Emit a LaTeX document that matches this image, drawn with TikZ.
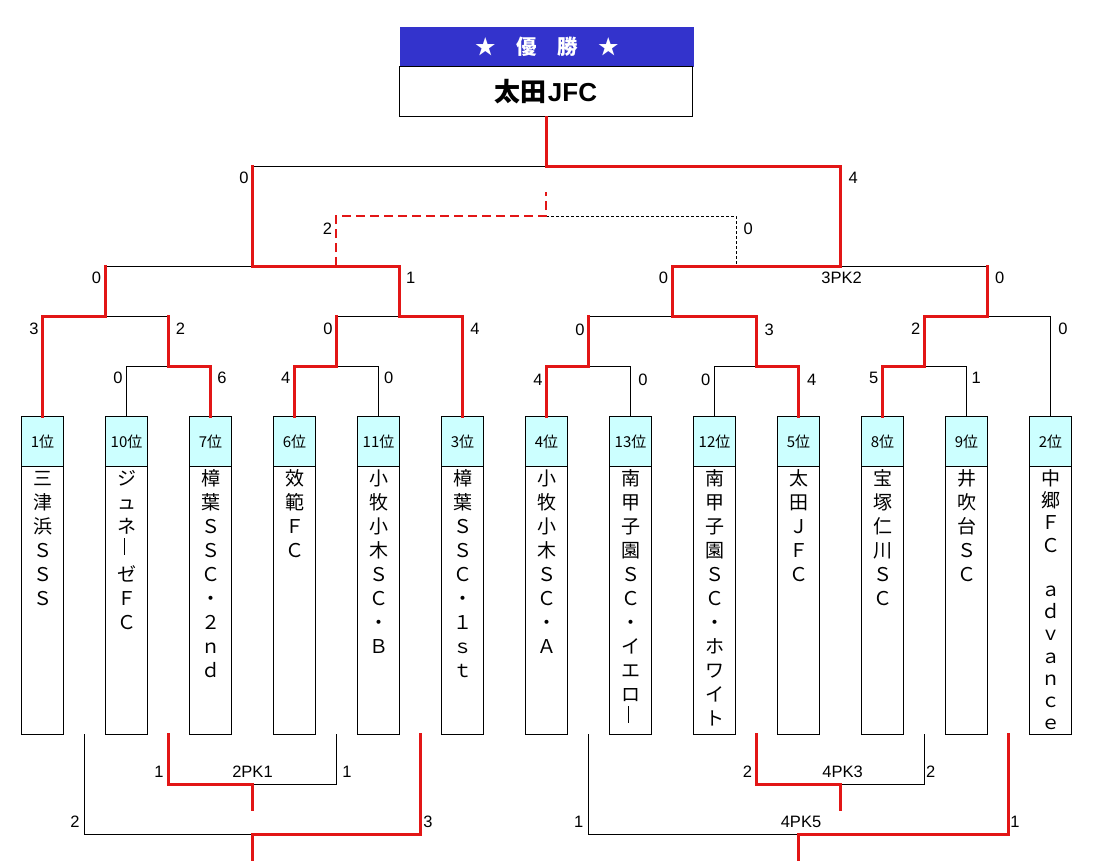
\documentclass[tikz,border=0pt]{standalone}
\usepackage{fontspec}
\setmainfont{Liberation Sans}
\newfontfamily\jp{Noto Sans CJK JP}
\definecolor{winred}{RGB}{226,22,22}
\definecolor{champblue}{RGB}{51,51,204}
\definecolor{rankcyan}{RGB}{204,255,255}
\tikzset{
  thinline/.style={line width=1pt, black},
  winline/.style={line width=3pt, winred, line cap=rect},
  reddash/.style={line width=2.4pt, winred, dash pattern=on 9pt off 5pt},
  blackdash/.style={line width=0.9pt, black, dash pattern=on 3pt off 2pt},
  rankhdr/.style={draw, line width=1pt, fill=rankcyan, minimum width=42pt, minimum height=50pt, inner sep=0pt, font=\jp\fontsize{15}{15}\selectfont},
  namebody/.style={draw, line width=1pt, fill=white, minimum width=42pt, minimum height=267.5pt, inner sep=0pt},
  vch/.style={anchor=base, inner sep=0pt, font=\jp\fontsize{19}{19}\selectfont},
  score/.style={inner sep=0pt, font=\fontsize{16.5}{16.5}\selectfont},
  longvowel/.style={line width=1.8pt, black},
}
\newcommand\teambox[4]{%
  \node[rankhdr] (h#1) at ({42.5+84*(#1-1)},441.5) {#2};
  \node[namebody] (t#1) at ({42.5+84*(#1-1)},600.25) {};
  \foreach \ch [count=\k] in {#4} {
    \node[vch] (n#1-\k) at ({42.5+84*(#1-1)},{485.5+#3*(\k-1)}) {\ch};
  }
}
\begin{document}
\begin{tikzpicture}[x=1pt,y=-1pt]
\useasboundingbox (0,0) rectangle (1093,860);
\fill[white] (0,0) rectangle (1093,860);

% champion
\node[draw=champblue, fill=champblue, minimum width=293pt, minimum height=39pt, inner sep=0pt, text=white, font=\jp\bfseries\fontsize{20.5}{20.5}\selectfont] (chd) at (547,46.7) {★　優　勝　★};
\node[draw, line width=1pt, fill=white, minimum width=293pt, minimum height=50.5pt, inner sep=0pt, font=\bfseries\fontsize{26}{26}\selectfont] (cb) at (546,91.5) {{\jp 太田}\hspace{1pt}JFC};

% team boxes
\teambox{1}{1位}{24}{三,津,浜,Ｓ,Ｓ,Ｓ}
\teambox{2}{10位}{24}{ジ,ュ,ネ,{},ゼ,Ｆ,Ｃ}
\teambox{3}{7位}{24}{樟,葉,Ｓ,Ｓ,Ｃ,・,２,ｎ,ｄ}
\teambox{4}{6位}{24}{效,範,Ｆ,Ｃ}
\teambox{5}{11位}{24}{小,牧,小,木,Ｓ,Ｃ,・,Ｂ}
\teambox{6}{3位}{24}{樟,葉,Ｓ,Ｓ,Ｃ,・,１,ｓ,ｔ}
\teambox{7}{4位}{24}{小,牧,小,木,Ｓ,Ｃ,・,Ａ}
\teambox{8}{13位}{24}{南,甲,子,園,Ｓ,Ｃ,・,イ,エ,ロ,{}}
\teambox{9}{12位}{24}{南,甲,子,園,Ｓ,Ｃ,・,ホ,ワ,イ,ト}
\teambox{10}{5位}{24}{太,田,Ｊ,Ｆ,Ｃ}
\teambox{11}{8位}{24}{宝,塚,仁,川,Ｓ,Ｃ}
\teambox{12}{9位}{24}{井,吹,台,Ｓ,Ｃ}
\teambox{13}{2位}{22.2}{中,郷,Ｆ,Ｃ,{},ａ,ｄ,ｖ,ａ,ｎ,ｃ,ｅ}
% vertical long-vowel marks (ー in vertical writing)
\draw[longvowel] ([xshift=-2pt]n2-4.center |- 0,538) -- ([xshift=-2pt]n2-4.center |- 0,555);
\draw[longvowel] ([xshift=-2pt]n8-11.center |- 0,706) -- ([xshift=-2pt]n8-11.center |- 0,723);

% junctions
\coordinate (j23) at (168.5,366);
\coordinate (j45) at (336.5,366);
\coordinate (j78) at (588.5,366);
\coordinate (j910) at (756.5,366);
\coordinate (j1112) at (924.5,366);
\coordinate (k1) at (105.5,316);
\coordinate (k2) at (399.5,316);
\coordinate (k3) at (672.5,316);
\coordinate (k4) at (987.5,316);
\coordinate (s1) at (252.5,266);
\coordinate (s2) at (840.5,266);
\coordinate (f) at (546,166);
\coordinate (d1) at (336,266);
\coordinate (d2) at (336,216);
\coordinate (d3) at (546,216);
\coordinate (d4) at (546,191.5);
\coordinate (d5) at (736,216);
\coordinate (d6) at (736,266);

% black (losing) lines
\draw[thinline] (h2.north) |- (j23);
\draw[thinline] (h5.north) |- (j45);
\draw[thinline] (h8.north) |- (j78);
\draw[thinline] (h9.north) |- (j910);
\draw[thinline] (h12.north) |- (j1112);
\draw[thinline] (h13.north) |- (k4);
\draw[thinline] (j23 |- k1) -- (k1);
\draw[thinline] (j45 |- k2) -- (k2);
\draw[thinline] (j78 |- k3) -- (k3);
\draw[thinline] (k1 |- s1) -- (s1);
\draw[thinline] (s2) -- (k4 |- s2);
\draw[thinline] (s1 |- f) -- (f);
\draw[blackdash] (d3) -- (d5) -- (d6);

% red (winning) lines
\draw[winline] (h3.north) |- (j23) -- (j23 |- k1);
\draw[winline] (h1.north) |- (k1) -- (k1 |- s1);
\draw[winline] (h4.north) |- (j45) -- (j45 |- k2);
\draw[winline] (h6.north) |- (k2) -- (k2 |- s1) -- (s1) -- (s1 |- f);
\draw[winline] (h7.north) |- (j78) -- (j78 |- k3);
\draw[winline] (h10.north) |- (j910) -- (j910 |- k3) -- (k3) -- (k3 |- s2) -- (s2) -- (s2 |- f);
\draw[winline] (h11.north) |- (j1112) -- (j1112 |- k4) -- (k4) -- (k4 |- s2);
\draw[winline] (cb.south) -- (f) -- (s2 |- f);
\draw[reddash] (d1) -- (d2) -- (d3) -- (d4);

% bottom brackets
\coordinate (p1) at (84.5,734);
\coordinate (p2) at (168.5,734);
\coordinate (p4) at (336.5,734);
\coordinate (p5) at (420.5,734);
\coordinate (q1) at (252.5,784);
\coordinate (q1e) at (252.5,809.3);
\coordinate (q2) at (252.5,834.3);
\coordinate (q2e) at (252.5,860);
\coordinate (p7) at (588.5,734);
\coordinate (p9) at (756.5,734);
\coordinate (p11) at (924.5,734);
\coordinate (p12) at (1008.5,734);
\coordinate (r1) at (840.5,784);
\coordinate (r1e) at (840.5,809.3);
\coordinate (r2) at (798.5,834.3);
\coordinate (r2e) at (798.5,860);

\draw[thinline] (p4) |- (q1);
\draw[thinline] (p1) |- (q2);
\draw[thinline] (p11) |- (r1);
\draw[thinline] (p7) |- (r2);
\draw[winline] (p2) |- (q1) -- (q1e);
\draw[winline] (p5) |- (q2) -- (q2e);
\draw[winline] (p9) |- (r1) -- (r1e);
\draw[winline] (p12) |- (r2) -- (r2e);

% scores
\node[score] (a1) at (244,178.3) {0};
\node[score] (a2) at (853.2,178.3) {4};
\node[score] (a3) at (327.5,229) {2};
\node[score] (a4) at (748.1,229) {0};
\node[score] (a5) at (96.4,278.3) {0};
\node[score] (a6) at (410.7,278.3) {1};
\node[score] (a7) at (663.5,278.3) {0};
\node[score] (a8) at (841.6,278.3) {3PK2};
\node[score] (a9) at (999.6,278.3) {0};
\node[score] (a10) at (34,329) {3};
\node[score] (a11) at (180.4,329) {2};
\node[score] (a12) at (327.9,329) {0};
\node[score] (a13) at (475,329) {4};
\node[score] (a14) at (579.9,330) {0};
\node[score] (a15) at (769.3,330) {3};
\node[score] (a16) at (915.7,329) {2};
\node[score] (a17) at (1063,329) {0};
\node[score] (a18) at (117.9,378.3) {0};
\node[score] (a19) at (222,378.3) {6};
\node[score] (a20) at (285.7,378.3) {4};
\node[score] (a21) at (388.6,378.3) {0};
\node[score] (a22) at (538,379.5) {4};
\node[score] (a23) at (643,380) {0};
\node[score] (a24) at (705.8,380) {0};
\node[score] (a25) at (811.6,380) {4};
\node[score] (a26) at (873.7,378.3) {5};
\node[score] (a27) at (976.3,378.3) {1};
% bottom scores
\node[score] (b1) at (159,771.7) {1};
\node[score] (b2) at (252.5,771.5) {2PK1};
\node[score] (b3) at (347,771.7) {1};
\node[score] (b4) at (75,821.7) {2};
\node[score] (b5) at (428,821.7) {3};
\node[score] (b6) at (747.4,771.7) {2};
\node[score] (b7) at (842.6,771.5) {4PK3};
\node[score] (b8) at (930.8,771.7) {2};
\node[score] (b9) at (578.8,821.7) {1};
\node[score] (b10) at (801,821.5) {4PK5};
\node[score] (b11) at (1015,821.7) {1};
\end{tikzpicture}
\end{document}
